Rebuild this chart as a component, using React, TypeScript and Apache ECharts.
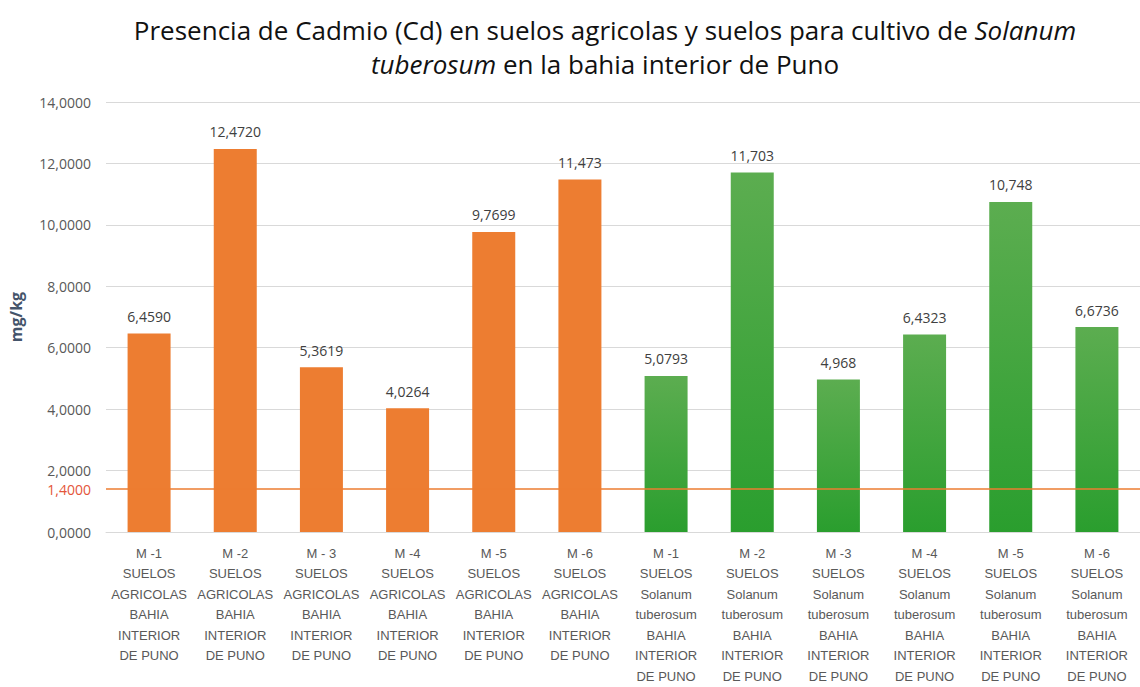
import React, { useEffect, useRef } from "react";
import * as echarts from "echarts";

const categories = [
  "M -1\nSUELOS\nAGRICOLAS\nBAHIA\nINTERIOR\nDE PUNO",
  "M -2\nSUELOS\nAGRICOLAS\nBAHIA\nINTERIOR\nDE PUNO",
  "M - 3\nSUELOS\nAGRICOLAS\nBAHIA\nINTERIOR\nDE PUNO",
  "M -4\nSUELOS\nAGRICOLAS\nBAHIA\nINTERIOR\nDE PUNO",
  "M -5\nSUELOS\nAGRICOLAS\nBAHIA\nINTERIOR\nDE PUNO",
  "M -6\nSUELOS\nAGRICOLAS\nBAHIA\nINTERIOR\nDE PUNO",
  "M -1\nSUELOS\nSolanum\ntuberosum\nBAHIA\nINTERIOR\nDE PUNO",
  "M -2\nSUELOS\nSolanum\ntuberosum\nBAHIA\nINTERIOR\nDE PUNO",
  "M -3\nSUELOS\nSolanum\ntuberosum\nBAHIA\nINTERIOR\nDE PUNO",
  "M -4\nSUELOS\nSolanum\ntuberosum\nBAHIA\nINTERIOR\nDE PUNO",
  "M -5\nSUELOS\nSolanum\ntuberosum\nBAHIA\nINTERIOR\nDE PUNO",
  "M -6\nSUELOS\nSolanum\ntuberosum\nBAHIA\nINTERIOR\nDE PUNO",
];

const values = [6.459, 12.472, 5.3619, 4.0264, 9.7699, 11.473, 5.0793, 11.703, 4.968, 6.4323, 10.748, 6.6736];
const valueLabels = ["6,4590", "12,4720", "5,3619", "4,0264", "9,7699", "11,473", "5,0793", "11,703", "4,968", "6,4323", "10,748", "6,6736"];
const groups = ["suelo", "suelo", "suelo", "suelo", "suelo", "suelo", "papa", "papa", "papa", "papa", "papa", "papa"];
const limitValue = 1.4;
const limitLabel = "1,4000";

export default function App() {
  const ref = useRef<HTMLDivElement>(null);
  useEffect(() => {
    if (!ref.current) return;
    const chart = echarts.init(ref.current, undefined, { renderer: "svg" });
    const green = new echarts.graphic.LinearGradient(0, 0, 0, 1, [
      { offset: 0, color: "#5cad50" },
      { offset: 1, color: "#2a9e2e" },
    ]);
    const data = values.map((v, i) => ({
      value: v,
      itemStyle: { color: groups[i] === "suelo" ? "#ED7D31" : green },
      label: { formatter: valueLabels[i] },
    }));
    chart.setOption({
      animation: false,
      backgroundColor: "#ffffff",
      title: {
        left: 600,
        textAlign: "center",
        top: 8,
        text:
          "{n|Presencia de Cadmio (Cd) en suelos agricolas y suelos para cultivo de }{i|Solanum}\n{i|tuberosum}{n| en la bahia interior de Puno}",
        textStyle: {
          fontWeight: "normal",
          rich: {
            n: { fontFamily: "Open Sans", fontSize: 26, fontWeight: "normal", color: "#111111", lineHeight: 34 },
            i: { fontFamily: "Open Sans", fontSize: 26, fontWeight: "normal", color: "#111111", fontStyle: "italic", lineHeight: 34 },
          },
        },
      },
      grid: { left: 106, right: 0, top: 102, bottom: 155, containLabel: false },
      xAxis: {
        type: "category",
        data: categories,
        axisLine: { show: true, lineStyle: { color: "#d9d9d9" } },
        axisTick: { show: false },
        axisLabel: {
          interval: 0,
          margin: 11,
          color: "#595959",
          fontFamily: "Liberation Sans",
          fontSize: 13,
          lineHeight: 20.5,
        },
      },
      yAxis: {
        type: "value",
        min: 0,
        max: 14,
        interval: 2,
        name: "mg/kg",
        nameLocation: "middle",
        nameGap: 82,
        nameTextStyle: { color: "#44546a", fontWeight: "bold", fontSize: 16, fontFamily: "Open Sans" },
        axisLine: { show: false },
        axisTick: { show: false },
        splitLine: { lineStyle: { color: "#d9d9d9" } },
        axisLabel: {
          margin: 15,
          color: "#595959",
          fontFamily: "Open Sans",
          fontSize: 14,
          formatter: (v: number) => v.toFixed(4).replace(".", ","),
        },
      },
      series: [
        {
          type: "bar",
          data,
          barWidth: 43,
          label: {
            show: true,
            position: "top",
            distance: 10,
            color: "#404040",
            fontFamily: "Open Sans",
            fontSize: 14,
          },
          markLine: {
            silent: true,
            symbol: "none",
            data: [{ yAxis: limitValue }],
            lineStyle: { color: "#ED7D31", type: "solid", width: 1.5 },
            label: {
              show: true,
              position: "start",
              distance: 15,
              formatter: limitLabel,
              color: "#e4553a",
              fontFamily: "Open Sans",
              fontSize: 14,
            },
          },
          z: 2,
        },
      ],
    });
    return () => chart.dispose();
  }, []);
  return (
    <div
      ref={ref}
      style={{ position: "absolute", left: 0, top: 0, width: 1140, height: 687 }}
    />
  );
}
